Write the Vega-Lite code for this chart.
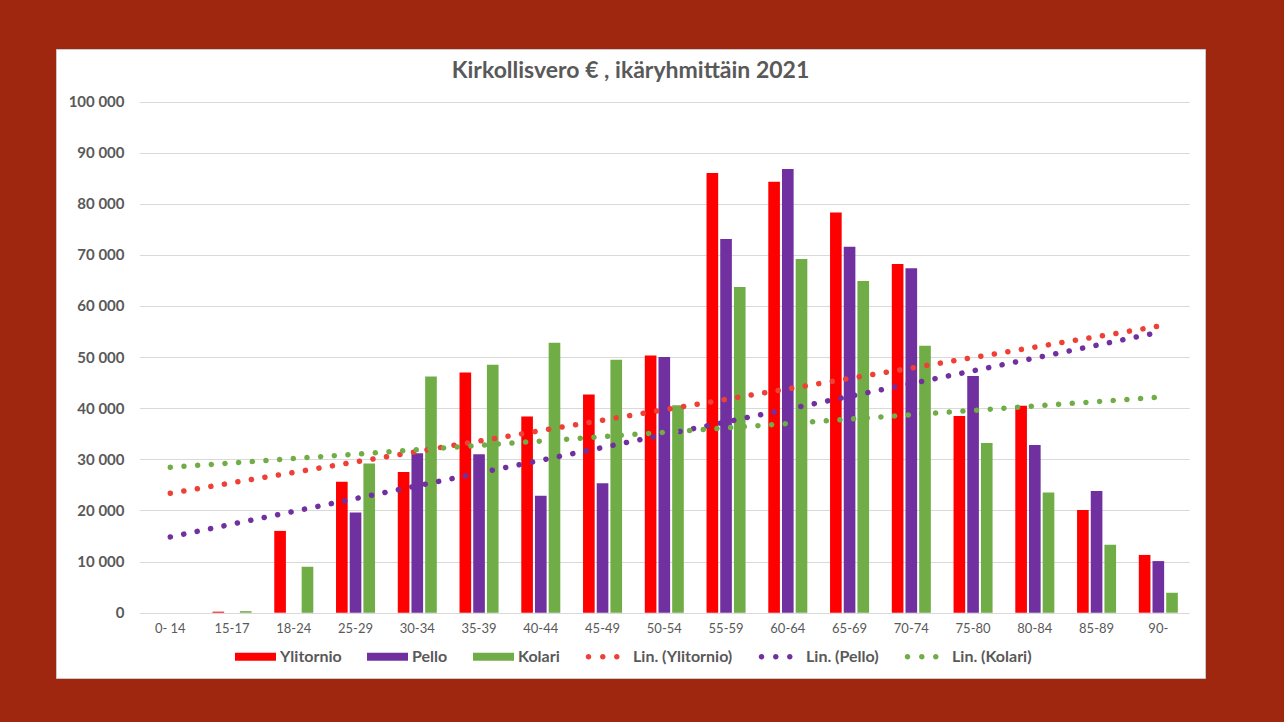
{
  "$schema": "https://vega.github.io/schema/vega-lite/v6.json",
  "autosize": {"type": "none"},
  "width": 1149,
  "height": 629,
  "padding": {"left": 56, "top": 49, "right": 79, "bottom": 44},
  "background": "#A0270F",
  "config": {
    "font": "Lato",
    "view": {"fill": "white", "stroke": "#c9c9c9", "strokeWidth": 1}
  },
  "title": {
    "text": "Kirkollisvero € , ikäryhmittäin 2021",
    "font": "Lato",
    "fontSize": 23,
    "fontWeight": "bold",
    "color": "#595959",
    "anchor": "middle",
    "frame": "group",
    "offset": -34
  },
  "datasets": {
    "rows": [
      {"ika": "0- 14", "i": 0, "sarja": "Ylitornio", "lin": "Lin. (Ylitornio)", "vero": 0},
      {"ika": "15-17", "i": 1, "sarja": "Ylitornio", "lin": "Lin. (Ylitornio)", "vero": 200},
      {"ika": "18-24", "i": 2, "sarja": "Ylitornio", "lin": "Lin. (Ylitornio)", "vero": 16000},
      {"ika": "25-29", "i": 3, "sarja": "Ylitornio", "lin": "Lin. (Ylitornio)", "vero": 25600},
      {"ika": "30-34", "i": 4, "sarja": "Ylitornio", "lin": "Lin. (Ylitornio)", "vero": 27500},
      {"ika": "35-39", "i": 5, "sarja": "Ylitornio", "lin": "Lin. (Ylitornio)", "vero": 47000},
      {"ika": "40-44", "i": 6, "sarja": "Ylitornio", "lin": "Lin. (Ylitornio)", "vero": 38400},
      {"ika": "45-49", "i": 7, "sarja": "Ylitornio", "lin": "Lin. (Ylitornio)", "vero": 42700},
      {"ika": "50-54", "i": 8, "sarja": "Ylitornio", "lin": "Lin. (Ylitornio)", "vero": 50300},
      {"ika": "55-59", "i": 9, "sarja": "Ylitornio", "lin": "Lin. (Ylitornio)", "vero": 86000},
      {"ika": "60-64", "i": 10, "sarja": "Ylitornio", "lin": "Lin. (Ylitornio)", "vero": 84300},
      {"ika": "65-69", "i": 11, "sarja": "Ylitornio", "lin": "Lin. (Ylitornio)", "vero": 78300},
      {"ika": "70-74", "i": 12, "sarja": "Ylitornio", "lin": "Lin. (Ylitornio)", "vero": 68200},
      {"ika": "75-80", "i": 13, "sarja": "Ylitornio", "lin": "Lin. (Ylitornio)", "vero": 38500},
      {"ika": "80-84", "i": 14, "sarja": "Ylitornio", "lin": "Lin. (Ylitornio)", "vero": 40500},
      {"ika": "85-89", "i": 15, "sarja": "Ylitornio", "lin": "Lin. (Ylitornio)", "vero": 20100},
      {"ika": "90-", "i": 16, "sarja": "Ylitornio", "lin": "Lin. (Ylitornio)", "vero": 11300},
      {"ika": "0- 14", "i": 0, "sarja": "Pello", "lin": "Lin. (Pello)", "vero": 0},
      {"ika": "15-17", "i": 1, "sarja": "Pello", "lin": "Lin. (Pello)", "vero": 0},
      {"ika": "18-24", "i": 2, "sarja": "Pello", "lin": "Lin. (Pello)", "vero": 0},
      {"ika": "25-29", "i": 3, "sarja": "Pello", "lin": "Lin. (Pello)", "vero": 19600},
      {"ika": "30-34", "i": 4, "sarja": "Pello", "lin": "Lin. (Pello)", "vero": 31200},
      {"ika": "35-39", "i": 5, "sarja": "Pello", "lin": "Lin. (Pello)", "vero": 31000},
      {"ika": "40-44", "i": 6, "sarja": "Pello", "lin": "Lin. (Pello)", "vero": 22900},
      {"ika": "45-49", "i": 7, "sarja": "Pello", "lin": "Lin. (Pello)", "vero": 25300},
      {"ika": "50-54", "i": 8, "sarja": "Pello", "lin": "Lin. (Pello)", "vero": 50000},
      {"ika": "55-59", "i": 9, "sarja": "Pello", "lin": "Lin. (Pello)", "vero": 73100},
      {"ika": "60-64", "i": 10, "sarja": "Pello", "lin": "Lin. (Pello)", "vero": 86800},
      {"ika": "65-69", "i": 11, "sarja": "Pello", "lin": "Lin. (Pello)", "vero": 71600},
      {"ika": "70-74", "i": 12, "sarja": "Pello", "lin": "Lin. (Pello)", "vero": 67400},
      {"ika": "75-80", "i": 13, "sarja": "Pello", "lin": "Lin. (Pello)", "vero": 46300},
      {"ika": "80-84", "i": 14, "sarja": "Pello", "lin": "Lin. (Pello)", "vero": 32800},
      {"ika": "85-89", "i": 15, "sarja": "Pello", "lin": "Lin. (Pello)", "vero": 23800},
      {"ika": "90-", "i": 16, "sarja": "Pello", "lin": "Lin. (Pello)", "vero": 10100},
      {"ika": "0- 14", "i": 0, "sarja": "Kolari", "lin": "Lin. (Kolari)", "vero": 0},
      {"ika": "15-17", "i": 1, "sarja": "Kolari", "lin": "Lin. (Kolari)", "vero": 300},
      {"ika": "18-24", "i": 2, "sarja": "Kolari", "lin": "Lin. (Kolari)", "vero": 9000},
      {"ika": "25-29", "i": 3, "sarja": "Kolari", "lin": "Lin. (Kolari)", "vero": 29200},
      {"ika": "30-34", "i": 4, "sarja": "Kolari", "lin": "Lin. (Kolari)", "vero": 46200},
      {"ika": "35-39", "i": 5, "sarja": "Kolari", "lin": "Lin. (Kolari)", "vero": 48500},
      {"ika": "40-44", "i": 6, "sarja": "Kolari", "lin": "Lin. (Kolari)", "vero": 52800},
      {"ika": "45-49", "i": 7, "sarja": "Kolari", "lin": "Lin. (Kolari)", "vero": 49500},
      {"ika": "50-54", "i": 8, "sarja": "Kolari", "lin": "Lin. (Kolari)", "vero": 40600},
      {"ika": "55-59", "i": 9, "sarja": "Kolari", "lin": "Lin. (Kolari)", "vero": 63700},
      {"ika": "60-64", "i": 10, "sarja": "Kolari", "lin": "Lin. (Kolari)", "vero": 69200},
      {"ika": "65-69", "i": 11, "sarja": "Kolari", "lin": "Lin. (Kolari)", "vero": 64900},
      {"ika": "70-74", "i": 12, "sarja": "Kolari", "lin": "Lin. (Kolari)", "vero": 52200},
      {"ika": "75-80", "i": 13, "sarja": "Kolari", "lin": "Lin. (Kolari)", "vero": 33200},
      {"ika": "80-84", "i": 14, "sarja": "Kolari", "lin": "Lin. (Kolari)", "vero": 23500},
      {"ika": "85-89", "i": 15, "sarja": "Kolari", "lin": "Lin. (Kolari)", "vero": 13300},
      {"ika": "90-", "i": 16, "sarja": "Kolari", "lin": "Lin. (Kolari)", "vero": 3900}
    ]
  },
  "data": {"name": "rows"},
  "layer": [
    {
      "mark": {"type": "bar"},
      "encoding": {
        "x": {
          "field": "ika",
          "type": "nominal",
          "sort": null,
          "scale": {"range": [83.4, 1133.2], "paddingInner": 0.368, "paddingOuter": 0.184},
          "axis": {
            "title": null,
            "domain": false,
            "ticks": false,
            "tickSize": 0,
            "grid": false,
            "labelAngle": 0,
            "labelBaseline": "middle",
            "labelPadding": -50,
            "labelFont": "Lato",
            "labelFontSize": 13,
            "labelColor": "#595959"
          }
        },
        "xOffset": {
          "field": "sarja",
          "type": "nominal",
          "sort": ["Ylitornio", "Pello", "Kolari"],
          "scale": {"paddingInner": 0.15}
        },
        "y": {
          "field": "vero",
          "type": "quantitative",
          "scale": {"domain": [0, 100000], "nice": false, "range": [563.7, 52.5]},
          "axis": {
            "title": null,
            "domain": false,
            "ticks": false,
            "tickSize": 0,
            "grid": true,
            "gridColor": "#d9d9d9",
            "gridWidth": 1,
            "values": [0, 10000, 20000, 30000, 40000, 50000, 60000, 70000, 80000, 90000, 100000],
            "labelExpr": "replace(format(datum.value, ',d'), ',', ' ')",
            "labelPadding": -68,
            "labelFont": "Lato",
            "labelFontSize": 15,
            "labelFontWeight": "bold",
            "labelColor": "#595959"
          }
        },
        "color": {
          "field": "sarja",
          "type": "nominal",
          "scale": {
            "domain": ["Ylitornio", "Pello", "Kolari", "Lin. (Ylitornio)", "Lin. (Pello)", "Lin. (Kolari)"],
            "range": ["#FF0000", "#7030A0", "#70AD47", "#EE4036", "#7030A0", "#70AD47"]
          },
          "legend": {
            "title": null,
            "orient": "none",
            "direction": "horizontal",
            "legendX": 179,
            "legendY": 587,
            "padding": 0,
            "symbolSize": 1681,
            "symbolStrokeWidth": 0,
            "labelOffset": 4,
            "columnPadding": 25,
            "labelFont": "Lato",
            "labelFontSize": 16,
            "labelFontWeight": "bold",
            "labelColor": "#595959",
            "encode": {
              "symbols": {
                "update": {
                  "shape": {"signal": "indexof(datum.value, 'Lin') === 0 ? 'M-1.11,0a0.135,0.135 0 1,0 0.27,0a0.135,0.135 0 1,0 -0.27,0M-0.413,0a0.135,0.135 0 1,0 0.27,0a0.135,0.135 0 1,0 -0.27,0M0.27,0a0.135,0.135 0 1,0 0.27,0a0.135,0.135 0 1,0 -0.27,0Z' : 'M-1,-0.195H1V0.195H-1Z'"},
                  "fill": {"scale": "color", "field": "value"},
                  "strokeWidth": {"value": 0},
                  "opacity": {"value": 1}
                }
              }
            }
          }
        }
      }
    },
    {
      "transform": [
        {"regression": "vero", "on": "i", "groupby": ["sarja", "lin"]},
        {"lookup": "i", "from": {"data": {"name": "rows"}, "key": "i", "fields": ["ika"]}}
      ],
      "mark": {"type": "line", "strokeWidth": 5.5, "strokeCap": "round", "strokeDash": [0.1, 13.6]},
      "encoding": {
        "x": {"field": "ika", "type": "nominal", "sort": null},
        "y": {"field": "vero", "type": "quantitative", "scale": {"domain": [0, 100000], "nice": false}},
        "color": {"field": "lin", "type": "nominal"},
        "detail": {"field": "sarja", "type": "nominal"}
      }
    }
  ]
}
